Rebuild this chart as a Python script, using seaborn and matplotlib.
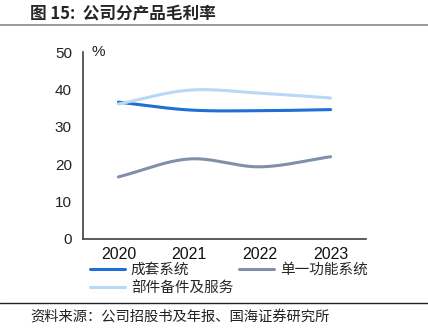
import numpy as np
import pandas as pd
import matplotlib
matplotlib.use("Agg")
import matplotlib.pyplot as plt
import seaborn as sns
from matplotlib.lines import Line2D

years = ["2020", "2021", "2022", "2023"]
complete_sys = [36.6, 34.5, 34.3, 34.6]
single_sys = [16.6, 21.4, 19.3, 22.0]
parts_service = [36.1, 39.8, 39.0, 37.7]
series_names = ["成套系统", "单一功能系统", "部件备件及服务"]
colors = ["#1F6FD6", "#8090AA", "#B9D8F6"]
yticks = [0, 10, 20, 30, 40, 50]

sns.set_theme(style="white")
plt.rcParams['font.family'] = ['Noto Sans CJK SC', 'DejaVu Sans']

fig = plt.figure(figsize=(4.28, 3.34), dpi=100)
ax = fig.add_axes([83/428, 1-239/334, (366-83)/428, (239-52)/334])


def smooth(y, n=60):
    # cubic Hermite through the data points (drawing only)
    y = np.asarray(y, float)
    x = np.arange(len(y), dtype=float)
    m = np.gradient(y, x)
    xs, ys = [], []
    for i in range(len(y) - 1):
        t = np.linspace(0, 1, n)
        h00 = 2*t**3 - 3*t**2 + 1
        h10 = t**3 - 2*t**2 + t
        h01 = -2*t**3 + 3*t**2
        h11 = t**3 - t**2
        xs.append(x[i] + t)
        ys.append(h00*y[i] + h10*m[i] + h01*y[i+1] + h11*m[i+1])
    return np.concatenate(xs), np.concatenate(ys)

frames = []
for name, vals in zip(series_names, [complete_sys, single_sys, parts_service]):
    xs, ys = smooth(vals)
    frames.append(pd.DataFrame({"x": xs, "y": ys, "series": name}))
df = pd.concat(frames, ignore_index=True)

sns.lineplot(data=df, x="x", y="y", hue="series", hue_order=series_names,
             palette=colors, linewidth=2.2, ax=ax, legend=False, sort=False)

ax.set_xlim(-0.5, 3.5)
ax.set_ylim(0, 50)
ax.set_yticks(yticks)
ax.set_yticklabels([str(v) for v in yticks], fontsize=11, color="#222222",
                   family=['Liberation Sans', 'DejaVu Sans'])
ax.set_xticks(range(len(years)))
ax.set_xticklabels(years, fontsize=11.5, color="#111111",
                   family=['Liberation Sans', 'DejaVu Sans'])
ax.tick_params(axis="x", length=0, pad=6)
ax.set_xticks([-0.5, 0.5, 1.5, 2.5, 3.5], minor=True)
ax.tick_params(axis="x", which="minor", direction="in", length=5, width=1, color="#404040")
ax.tick_params(axis="y", direction="out", length=5, width=1, color="#404040", pad=3)
for s in ["top", "right"]:
    ax.spines[s].set_visible(False)
for s in ["left", "bottom"]:
    ax.spines[s].set_color("#404040")
    ax.spines[s].set_linewidth(1.2)
ax.set_xlabel("")
ax.set_ylabel("")
ax.text(-0.38, 50, "%", fontsize=11, va="center", ha="left",
        family=['Liberation Sans', 'DejaVu Sans'], color="#222222")

# legend (column-major order so row 1 = 成套系统, 单一功能系统)
handles = [Line2D([], [], color=c, linewidth=2.2) for c in colors]
order = [0, 2, 1]
leg = fig.legend([handles[i] for i in order], [series_names[i] for i in order],
                 loc="upper left", bbox_to_anchor=(90/428, 1-263/334), ncol=2,
                 frameon=False, fontsize=10.5, handlelength=2.4, handletextpad=0.4,
                 columnspacing=0.4, labelspacing=0.25, borderaxespad=0, borderpad=0)

# title and rules
fig.text(30/428, 1-14/334, "图 15:  公司分产品毛利率", fontsize=12, fontweight="bold",
         va="center", ha="left")
fig.add_artist(Line2D([0, 1], [1-25/334, 1-25/334], color="#888888", linewidth=1.2,
                      transform=fig.transFigure))
fig.add_artist(Line2D([0, 1], [1-303/334, 1-303/334], color="#222222", linewidth=1.0,
                      transform=fig.transFigure))
fig.text(30/428, 1-318/334, "资料来源：公司招股书及年报、国海证券研究所", fontsize=10.3,
         va="center", ha="left", color="#222222")

fig.savefig("out.png", dpi=100)
